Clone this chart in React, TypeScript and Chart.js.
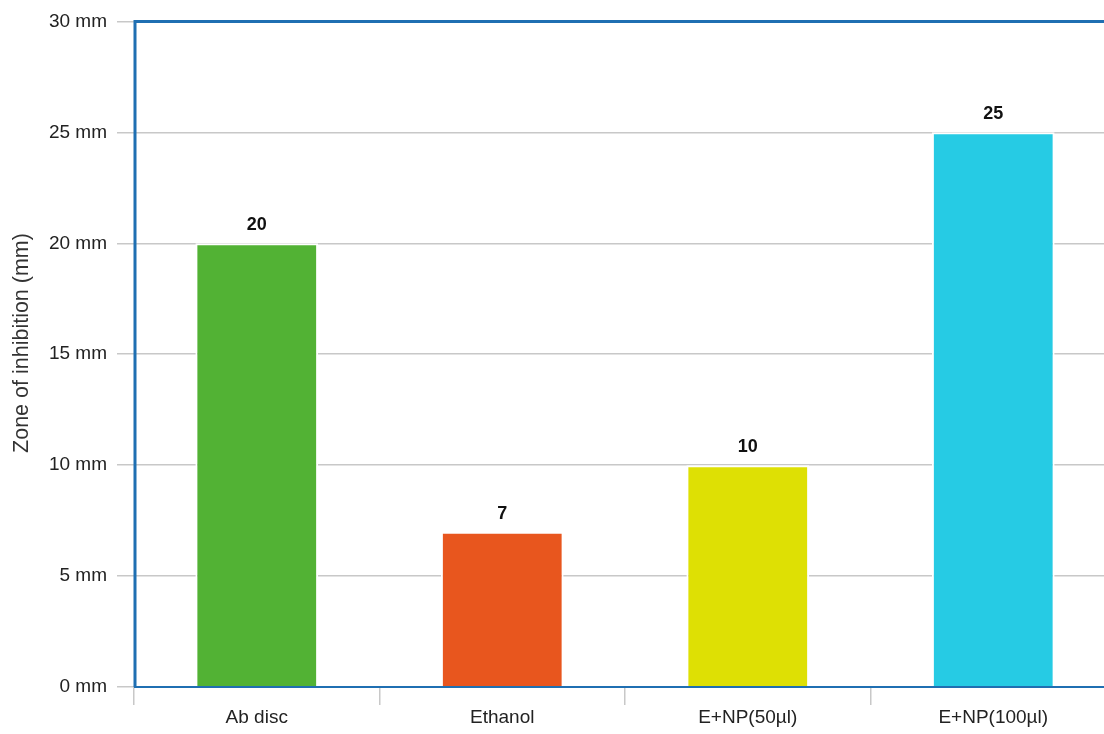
import React, { useEffect, useRef } from "react";
import { Chart, registerables } from "chart.js";

Chart.register(...registerables);

const categories = ["Ab disc", "Ethanol", "E+NP(50µl)", "E+NP(100µl)"];
const zoneValues = [20, 7, 10, 25];
const barColors = ["#52b234", "#e8561e", "#dee004", "#26cbe4"];
const yTickUnit = " mm";
const yTitle = "Zone of inhibition (mm)";

const FONT = "'Liberation Sans', Arial, sans-serif";

const valueLabels = {
  id: "valueLabels",
  afterDatasetsDraw(chart: any) {
    const ctx = chart.ctx;
    const meta = chart.getDatasetMeta(0);
    ctx.save();
    ctx.font = `bold 18px ${FONT}`;
    ctx.fillStyle = "#111";
    ctx.textAlign = "center";
    ctx.textBaseline = "bottom";
    meta.data.forEach((el: any, i: number) => {
      ctx.fillText(String(zoneValues[i]), el.x, el.y - 9);
    });
    ctx.restore();
  },
};

const yTitlePlugin = {
  id: "yTitlePlugin",
  afterDraw(chart: any) {
    const ctx = chart.ctx;
    ctx.save();
    ctx.translate(22, 343);
    ctx.rotate(-Math.PI / 2);
    ctx.font = `21.5px ${FONT}`;
    ctx.fillStyle = "#333";
    ctx.textAlign = "center";
    ctx.textBaseline = "middle";
    ctx.fillText(yTitle, 0, 0);
    ctx.restore();
  },
};

const frame = {
  id: "frame",
  afterDatasetsDraw(chart: any) {
    const { ctx, chartArea } = chart;
    ctx.save();
    ctx.strokeStyle = "#1f6fb2";
    ctx.lineWidth = 3;
    ctx.beginPath();
    ctx.moveTo(chartArea.left + 1, chartArea.bottom);
    ctx.lineTo(chartArea.left + 1, chartArea.top);
    ctx.lineTo(chartArea.right, chartArea.top);
    ctx.lineTo(chartArea.right, chartArea.bottom);
    ctx.stroke();
    ctx.lineWidth = 2;
    ctx.beginPath();
    ctx.moveTo(chartArea.left, chartArea.bottom);
    ctx.lineTo(chartArea.right, chartArea.bottom);
    ctx.stroke();
    ctx.restore();
  },
};

export default function App() {
  const ref = useRef<HTMLCanvasElement>(null);
  useEffect(() => {
    if (!ref.current) return;
    const chart = new Chart(ref.current, {
      type: "bar",
      data: {
        labels: categories,
        datasets: [
          {
            data: zoneValues,
            backgroundColor: barColors,
            borderColor: "#ffffff",
            borderWidth: 2,
            barPercentage: 0.5,
            categoryPercentage: 1,
          },
        ],
      },
      options: {
        responsive: false,
        animation: false,
        layout: { padding: { top: 21, right: 4, left: 0, bottom: 0 } },
        plugins: { legend: { display: false }, tooltip: { enabled: false } },
        scales: {
          x: {
            offset: true,
            grid: {
              offset: true,
              drawOnChartArea: false,
              color: "#c8c8c8",
              lineWidth: 1.5,
              tickLength: 18,
            },
            border: { display: false },
            ticks: { color: "#222", font: { family: FONT, size: 19 }, padding: 1 },
            afterFit(scale: any) {
              scale.height = 47;
            },
          },
          y: {
            min: 0,
            max: 30,
            grid: { color: "#c8c8c8", lineWidth: 1.5, tickLength: 17 },
            border: { display: false },
            ticks: {
              stepSize: 5,
              color: "#222",
              font: { family: FONT, size: 19 },
              padding: 10,
              callback: (v: any) => v + yTickUnit,
            },
            afterFit(scale: any) {
              scale.width = 134;
            },
          },
        },
      },
      plugins: [valueLabels, frame, yTitlePlugin],
    });
    return () => chart.destroy();
  }, []);
  return (
    <div
      style={{
        position: "fixed",
        left: 0,
        top: 0,
        width: 1104,
        height: 734,
        overflow: "hidden",
        background: "#fff",
      }}
    >
      <canvas ref={ref} width={1120} height={734} style={{ display: "block" }} />
    </div>
  );
}
